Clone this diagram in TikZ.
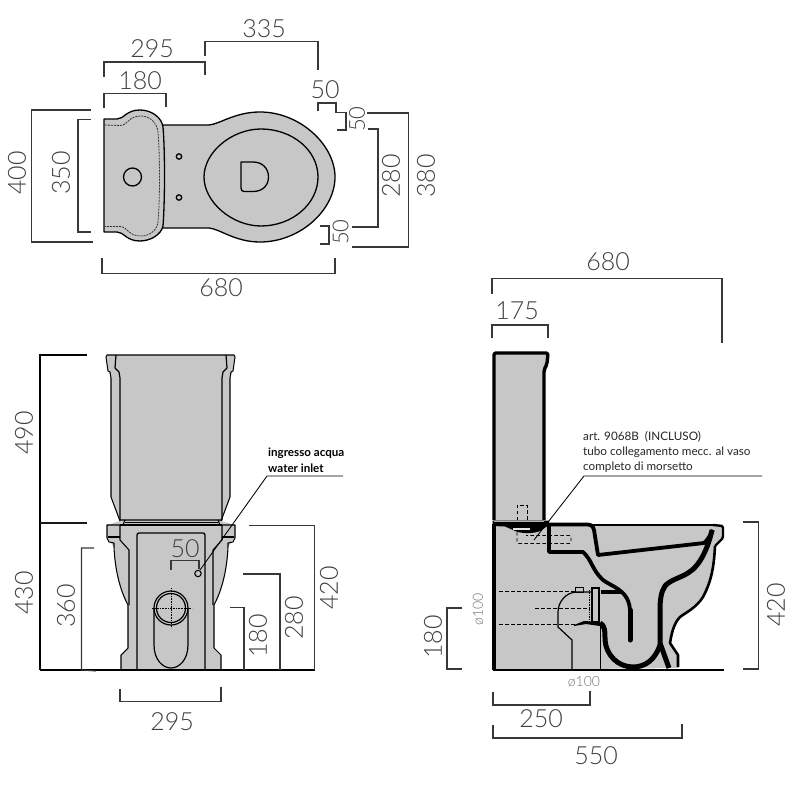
\documentclass[tikz,border=0pt]{standalone}
\usepackage{fontspec}
\setmainfont{Lato}
\newfontfamily\latlight{Lato Light}
\definecolor{body}{gray}{0.78}
\definecolor{dimc}{gray}{0.22}
\definecolor{numc}{gray}{0.25}
\tikzset{
  dimln/.style={draw=dimc,line width=1.05pt},
  num/.style={font=\latlight\fontsize{25}{25}\selectfont,text=numc,inner sep=0pt},
  vnum/.style={num,rotate=90},
  smallnum/.style={font=\latlight\fontsize{22}{22}\selectfont,text=numc,inner sep=0pt,rotate=90},
  dia/.style={font=\latlight\fontsize{14}{14}\selectfont,text=black!55,inner sep=0pt},
  note/.style={font=\fontsize{11.7}{14}\selectfont,text=black!85,inner sep=0pt,anchor=west},
  noteb/.style={font=\bfseries\fontsize{11.6}{14}\selectfont,text=black,inner sep=0pt,anchor=west},
  top/.style={draw=black,fill=body,line width=1.3pt,line join=round},
  fro/.style={draw=black,line width=1.05pt,line join=round},
  dsh/.style={draw=black,line width=0.9pt,dash pattern=on 3.5pt off 2.5pt},
  leader/.style={draw=black,line width=0.85pt},
}
\begin{document}
\begin{tikzpicture}[x=1pt,y=-1pt]
\useasboundingbox (0,0) rectangle (800,800);
\fill[white] (0,0) rectangle (800,800);

%% ---------- TOP VIEW ----------
\path[top] (160,125) -- (209,125) .. controls (220,124) and (235,112) .. (260,112)
  .. controls (300,112) and (335,145) .. (335,177) .. controls (335,210) and (300,242) .. (260,242)
  .. controls (235,242) and (220,229) .. (209,228) -- (160,228) -- cycle;
\path[top] (204,177) .. controls (204,152) and (232,129) .. (261,129)
  .. controls (292,129) and (318,150) .. (318,177) .. controls (318,204) and (292,226) .. (261,226)
  .. controls (232,226) and (204,202) .. (204,177) -- cycle;
\path[top] (241,162) -- (253,162) .. controls (262,162) and (268.5,168) .. (268.5,177)
  .. controls (268.5,186) and (262,191.5) .. (253,191.5) -- (244,191.5) .. controls (242,191.5) and (241,190) .. (241,188) -- cycle;
\path[top] (179,156.5) circle[radius=2.7pt];
\path[top] (179,197.5) circle[radius=2.7pt];
\path[top] (104,119) -- (117,119) .. controls (124,119) and (126,110) .. (140,110)
  .. controls (152,110) and (162,118) .. (163,127) .. controls (165,150) and (165,200) .. (163,226)
  .. controls (161,235) and (150,241) .. (140,241) .. controls (126,241) and (124,232) .. (117,232)
  -- (104,232) -- cycle;
\draw[black!80,line width=0.8pt,dash pattern=on 2pt off 1pt]
  (105,125) -- (120,125.5) .. controls (128,125.5) and (128,116) .. (141,116)
  .. controls (150,116) and (157,123) .. (158,132) .. controls (160,155) and (160,200) .. (158,222)
  .. controls (157,230) and (150,236) .. (141,236) .. controls (128,236) and (128,227) .. (120,226.5) -- (105,226.5);
\path[top] (132.5,177) circle[radius=9pt];

\draw[dimln] (104,77) -- (104,62) -- (205,62) -- (205,75);
\draw[dimln] (104,108) -- (104,93.5) -- (166,93.5) -- (166,107);
\draw[dimln] (91,110) -- (31.5,110) -- (31.5,242) -- (93,242);
\draw[dimln] (91,119.5) -- (78,119.5) -- (78,232) -- (91,232);
\draw[dimln] (102,258) -- (102,273.5) -- (335,273.5) -- (335,258);
\draw[dimln] (205,56) -- (205,41.5) -- (318,41.5) -- (318,70);
\draw[dimln] (318,111) -- (318,103) -- (336,103) -- (336,112.5) -- (346,112.5) -- (346,130) -- (337,130);
\draw[dimln] (367,113) -- (408.5,113) -- (408.5,247) -- (352,247);
\draw[dimln] (368,129) -- (378,129) -- (378,227) -- (352,227);
\draw[dimln] (320,226) -- (329,226) -- (329,244) -- (320,244);

\node[num] (t295) at (152,49) {295};
\node[num] (t180) at (140,81) {180};
\node[vnum] (t400) at (17,173) {400};
\node[vnum] (t350) at (61,173) {350};
\node[num] (t680) at (221,288) {680};
\node[num] (t335) at (264,29) {335};
\node[num] (t50a) at (325,90) {50};
\node[smallnum] (t50b) at (357,119) {50};
\node[smallnum] (t50c) at (340.5,232) {50};
\node[vnum] (t280) at (391,176) {280};
\node[vnum] (t380) at (426,176) {380};

%% ---------- FRONT VIEW ----------
\path[fill=body] (106,355) -- (235,355) -- (233,370) -- (230,378) -- (230,497) -- (221,521) -- (235,525) -- (235,538) -- (228,547)
  .. controls (227,570) and (222,590) .. (214,605) -- (214,648) -- (221,655) -- (221,670) -- (121,670) -- (121,655) -- (128,648) -- (128,605)
  .. controls (120,590) and (115,570) .. (114,547) -- (107,538) -- (107,525) -- (120,521) -- (111,497) -- (111,378) -- (108,370) -- cycle;
\draw[fro] (120,521) -- (111,497) -- (111,378) -- (110,372) -- (108,371) -- (106,357) -- (107,355) -- (234,355) -- (235,357) -- (233,371) -- (231,372) -- (230,378) -- (230,497) -- (221,521);
\draw[fro,line width=1.2pt] (116,355) -- (115,368) -- (119,372) -- (120,378) -- (120,520) -- (222,520) -- (222,378) -- (223,372) -- (227,368) -- (226,355);
\draw[fro] (125,520) -- (123,525) (218,520) -- (220,525);
\draw[fro] (125,522.5) -- (218,522.5);
\draw[fro] (120,525) -- (107,525) -- (107,538) -- (109,542) -- (114,543) -- (114,547)
  .. controls (115,570) and (120,590) .. (128,605) -- (128,648) -- (121,655) -- (121,670);
\draw[fro] (222,525) -- (235,525) -- (235,538) -- (233,542) -- (228,543) -- (228,547)
  .. controls (227,570) and (222,590) .. (214,605) -- (214,648) -- (221,655) -- (221,670);
\draw[fro] (120,525) -- (222,525);
\draw[fro] (120,525) -- (120,540) -- (129,550) -- (129,605);
\draw[fro] (222,525) -- (222,540) -- (213,550) -- (213,605);
\draw[fro] (108,537) -- (120,537) (234,537) -- (222,537);
\draw[fro,line width=1.3pt,rounded corners=2pt] (137,670) -- (137,533) -- (205,533) -- (205,670);
\draw[fro,line width=1.2pt] (154,608) -- (154,645) .. controls (154,660) and (163,668) .. (171,668) .. controls (179,668) and (188,660) .. (188,645) -- (188,608);
\draw[fro,line width=1.2pt] (171,608) circle[radius=17pt];
\draw[fro,line width=1.2pt] (171,608) circle[radius=14.5pt];
\draw[black,line width=0.6pt,densely dotted] (152,608) -- (192,608) (171,588) -- (171,628);
\path[fill=body,draw=black,line width=1.05pt] (198,573.5) circle[radius=3.2pt];

\coordinate (inleta) at (200,570);
\coordinate (inletb) at (267,476);
\coordinate (inletc) at (343,476);
\draw[leader] (inleta) -- (inletb) -- (inletc);
\node[noteb] (ingr) at (268,453) {ingresso acqua};
\node[noteb] (wat) at (268,468) {water inlet};

\draw[dimln] (171,570) -- (171,560.5) -- (199,560.5) -- (199,569);
\draw[draw=black,line width=1.8pt] (40,670) -- (314.5,670);
\draw[draw=black,line width=1.05pt] (87,355) -- (40,355) -- (40,670);
\draw[draw=black!90,line width=1.2pt] (40,523) -- (87,523);
\draw[dimln] (94,548) -- (81.5,548) -- (81.5,670) -- (96,671);
\draw[dimln] (249,525.5) -- (314.5,525.5) -- (314.5,670);
\draw[dimln] (243,574) -- (280,574) -- (280,670);
\draw[dimln] (230,607.5) -- (244,607.5) -- (244,670);
\draw[dimln] (120,689) -- (120,701.5) -- (221,701.5) -- (221,687);

\node[vnum] (f490) at (24,433) {490};
\node[vnum] (f430) at (24,593) {430};
\node[vnum] (f360) at (66,606) {360};
\node[vnum] (f180) at (258,636) {180};
\node[vnum] (f280) at (294,618) {280};
\node[vnum] (f420) at (329,588) {420};
\node[num] (f50) at (185,549) {50};
\node[num] (f295) at (172,722) {295};

%% ---------- SIDE VIEW ----------
\path[fill=body] (494,353) -- (548,353) -- (547,365) -- (544,370) -- (544,524) -- (713,525) -- (723,526) -- (723,538) -- (715,545)
  -- (713,567) -- (703,597) -- (680,617) -- (672,633) -- (670,643) -- (678,655) -- (678,668) -- (494,670) -- cycle;
\draw[draw=black,line width=1.05pt,line cap=round] (592,525) -- (713,525);
\draw[draw=black,line width=2.4pt,line join=round,rounded corners=1.5pt] (713,525) -- (723,526) -- (723,538) -- (715,546);
\draw[draw=black,line width=2.6pt,line join=round] (715,546) .. controls (714,565) and (712,580) .. (703,597) .. controls (696,608) and (685,613) .. (680,617)
   .. controls (675,622) and (672,630) .. (670,643) -- (678,655) -- (678,667);
\draw[draw=black,line width=5pt,line join=round] (712,530) .. controls (708,548) and (700,566) .. (688,573) .. controls (680,578) and (670,580) .. (665,586)
   .. controls (661,592) and (660,600) .. (660,610) -- (660,643) -- (669,668);
\draw[draw=black,line width=3.8pt,line join=round] (713,530) .. controls (711,534) and (707,541) .. (704,543) -- (598,555) -- (594,530) .. controls (593,526) and (591,524.5) .. (587,524.5) -- (549,524.5) -- (549,552) -- (583,552)
  .. controls (592,560) and (592,570) .. (603,580) .. controls (612,587) and (630,590) .. (630,612);
\draw[draw=black,line width=5pt,line cap=round] (630,610) -- (630,640);
\draw[draw=black,line width=3.5pt] (601,592) -- (622,592);
\draw[draw=black,line width=5pt,line join=round] (600,623) .. controls (605,625) and (605,632) .. (605,640) .. controls (606,655) and (618,667) .. (633,667)
  .. controls (645,667) and (655,660) .. (660,645);
\draw[draw=black,line width=1.2pt,fill=body] (592,588) -- (599,588) -- (599,622) -- (592,622) -- cycle;
\draw[draw=black,line width=0.7pt,densely dotted] (589.5,590) -- (589.5,622);
\draw[draw=black,line width=1.2pt] (572,670) -- (572,640) -- (558,627) -- (558,612)  .. controls (558,602) and (566,592) .. (577,592) -- (592,592);
\draw[draw=black,line width=1.2pt] (600.5,625) -- (600.5,670);
\draw[draw=black,line width=0.9pt] (575.5,587) rectangle (583,592);
\fill[black] (574,625) -- (584,621) -- (600,622) -- (600,626) -- (586,624) -- (574,626) -- cycle;
\draw[dsh] (499,591) -- (575,591);
\draw[dsh] (535,608) -- (590,608);
\draw[dsh] (499,624) -- (583,624);
\draw[dsh] (517,520) -- (517,505) -- (527,505) -- (527,520);
\draw[dsh,rounded corners=1.5pt] (517,526) -- (517,543.5) -- (571,543.5) -- (571,535.5) -- (526,535.5);
\draw[draw=black,line width=3.4pt,line join=round] (494,524) -- (494,670);
\draw[draw=black,line width=3.4pt,line join=round,rounded corners=2pt] (494,520) -- (494,353) -- (548,353) -- (547,364) -- (544,370) -- (544,520);
\fill[black] (492.5,520.5) -- (549,520.5) -- (549,525) -- (540,531) .. controls (533,534) and (520,534) .. (513,530) -- (505,526.5) -- (492.5,526) -- cycle;
\fill[white!90!black] (513,527.5) rectangle (530,530);
\draw[white!70!black,line width=0.5pt] (494,521) -- (544,521);
\draw[draw=black,line width=2.6pt] (492.5,670) -- (724,670);

\coordinate (arta) at (534,540);
\coordinate (artb) at (584,476);
\coordinate (artc) at (762,476);
\draw[leader] (arta) -- (artb) -- (artc);
\node[note] (art1) at (583,437) {art. 9068B \ (INCLUSO)};
\node[note] (art2) at (583,452) {tubo collegamento mecc. al vaso};
\node[note] (art3) at (583,467) {completo di morsetto};

\draw[dimln] (492,294) -- (492,278.5) -- (722,278.5) -- (722,343);
\draw[dimln] (492,338) -- (492,325) -- (548,325) -- (548,338);
\draw[dimln] (743,522) -- (758.5,522) -- (758.5,669) -- (743,669);
\draw[dimln] (462,608) -- (447,608) -- (447,669) -- (462,669);
\draw[dimln] (493,692) -- (493,705) -- (590,705) -- (590,691);
\draw[dimln] (493,725) -- (493,738) -- (682,738) -- (682,724);

\node[num] (s680) at (608,262) {680};
\node[num] (s175) at (517,311) {175};
\node[vnum] (s420) at (776,605) {420};
\node[vnum] (s180) at (433,637) {180};
\node[num] (s250) at (541,719) {250};
\node[num] (s550) at (596,756) {550};
\node[dia,rotate=90] (dv) at (478,609) {ø100};
\node[dia] (dh) at (584,682) {ø100};
\end{tikzpicture}
\end{document}
